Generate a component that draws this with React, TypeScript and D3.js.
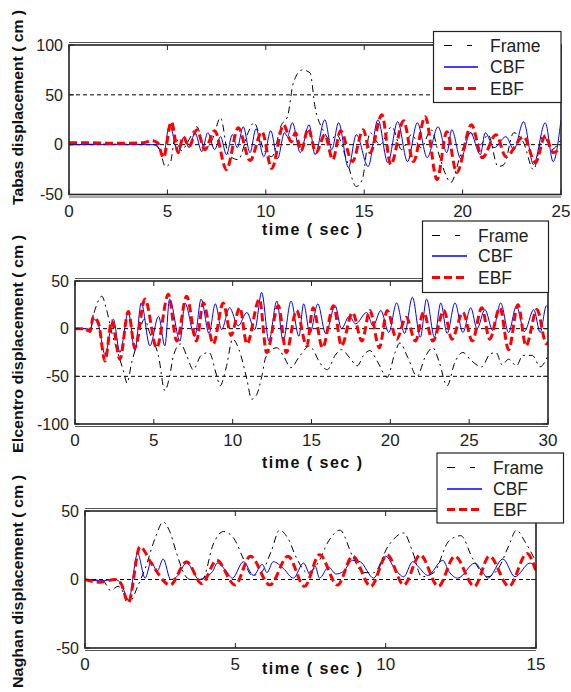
import React from 'react';
import * as d3 from 'd3';

type Pt = [number, number];

// ---------- DATA ----------
const seriesNames = ['Frame', 'CBF', 'EBF'];

const tabasXTicks = [0, 5, 10, 15, 20, 25];
const tabasYTicks = [-50, 0, 50, 100];
const tabasRefLines = [0, 50];
const tabasFrame: Pt[] = [[0,0],[2,0.5],[4.3,0],[4.6,-5],[4.9,-22],[5.15,-18],[5.4,8],[5.7,-6],[6.1,5],[6.5,18],[6.9,-4],[7.3,6],[7.7,27],[8.1,-10],[8.6,-15],[9.1,12],[9.4,22],[9.9,-5],[10.3,-12],[10.8,20],[11.1,28],[11.4,62],[11.85,75],[12.25,72],[12.5,38],[12.9,15],[13.3,5],[13.6,10],[14.1,-15],[14.6,-42],[14.9,-35],[15.3,12],[15.8,0],[16.4,18],[16.9,-5],[17.4,10],[17.9,-3],[18.4,15],[18.8,-10],[19.1,-28],[19.4,-38],[19.9,-10],[20.4,12],[20.9,0],[21.3,10],[21.8,-22],[22.1,-20],[22.6,12],[23.1,2],[23.6,-25],[24.1,10],[24.5,-5],[25,5]];
const tabasCBF: Pt[] = [[0,0],[4.4,0],[4.8,-10],[5.1,20],[5.55,-8],[5.85,8],[6.1,-3],[6.4,12],[6.75,-7],[7.05,12],[7.4,-5],[7.7,8],[8.0,-10],[8.3,10],[8.55,-3],[8.85,18],[9.2,-8],[9.5,16],[9.9,-12],[10.25,14],[10.6,-14],[10.95,12],[11.1,8],[11.35,22],[11.75,-8],[12.2,20],[12.5,-10],[13.0,25],[13.35,-5],[13.7,22],[14.2,-23],[14.6,10],[15.2,-22],[15.7,25],[16.2,-18],[16.7,23],[17.2,-17],[17.7,22],[18.2,-13],[18.75,18],[19.2,-8],[19.45,15],[19.9,-14],[20.4,12],[20.9,-10],[21.15,12],[21.6,-3],[22.2,8],[22.6,-5],[23.1,23],[23.6,-20],[24.2,22],[24.6,-17],[25,25]];
const tabasEBF: Pt[] = [[0,2],[1,2],[2,1.5],[3,1.5],[3.8,2],[4.2,4],[4.5,2],[4.8,-13],[5.2,23],[5.55,-8],[5.8,8],[6.1,-2],[6.5,15],[6.9,-5],[7.4,14],[8.0,-25],[8.6,17],[9.2,-16],[9.8,13],[10.3,-24],[10.9,20],[11.3,3],[11.5,12],[11.8,-6],[12.15,16],[12.55,-8],[13.0,10],[13.4,-15],[13.8,14],[14.4,-17],[14.95,15],[15.3,-8],[15.9,30],[16.35,-20],[17.0,24],[17.5,-17],[18.1,28],[18.7,-35],[19.2,13],[19.7,-28],[20.45,20],[21.0,-13],[21.7,10],[22.2,-12],[23.1,8],[23.7,-18],[24.2,9],[24.6,-8],[25,-3]];

const elcentroXTicks = [0, 5, 10, 15, 20, 25, 30];
const elcentroYTicks = [-100, -50, 0, 50];
const elcentroRefLines = [0, -50];
const elcentroFrame: Pt[] = [[0,0],[0.5,-1],[0.9,-3],[1.27,20],[1.7,34],[2.0,20],[2.35,-5],[2.75,-27],[3.1,-46],[3.3,-57],[3.6,-35],[3.9,-18],[4.4,10],[4.75,-5],[5.3,-29],[5.7,-65],[6.0,-50],[6.25,-28],[6.7,-16],[7.1,-29],[7.5,-43],[8.0,-28],[8.5,-25],[9.0,-50],[9.2,-60],[9.6,-40],[10.0,-11],[10.4,-22],[10.9,-53],[11.2,-74],[11.5,-70],[11.85,-50],[12.1,-30],[12.8,-20],[13.2,-28],[13.7,-41],[14.2,-30],[14.9,-18],[15.1,-22],[15.5,-35],[16.0,-43],[16.5,-28],[16.9,-22],[17.4,-30],[17.9,-39],[18.3,-28],[18.7,-23],[19.2,-35],[19.8,-51],[20.3,-25],[20.6,-15],[21.1,-30],[21.7,-50],[22.2,-30],[22.7,-20],[23.1,-35],[23.6,-60],[24.1,-35],[24.6,-25],[25.1,-33],[25.8,-40],[26.3,-27],[26.7,-25],[27.1,-38],[27.5,-32],[28.0,-39],[28.4,-28],[29.0,-28],[29.5,-40],[30,-28]];
const elcentroCBF: Pt[] = [[0,0],[0.7,0],[0.95,-2],[1.2,10],[1.5,3],[1.9,-27],[2.43,10],[2.85,-25],[3.38,17],[3.8,-23],[4.2,27],[4.75,-18],[5.3,13],[5.7,-18],[6.0,31],[6.66,-13],[6.97,27],[7.6,-8],[8.0,31],[8.5,-5],[8.9,26],[9.3,-1],[9.8,22],[10.35,3],[10.9,17],[11.4,-1],[11.84,38],[12.3,-13],[12.8,29],[13.2,-13],[13.7,29],[14.2,-8],[14.5,26],[14.9,-5],[15.4,26],[15.9,-5],[16.5,24],[16.9,0],[17.4,13],[17.8,5],[18.5,17],[18.9,3],[19.4,19],[19.9,-4],[20.4,27],[20.9,-5],[21.4,33],[21.9,-9],[22.3,31],[22.8,-9],[23.2,27],[23.6,-5],[24.1,27],[24.6,-4],[25.1,22],[25.5,0],[26.0,20],[26.5,-2],[27.0,27],[27.5,-4],[28.0,24],[28.5,-3],[29.1,20],[29.5,-4],[29.9,24],[30,22]];
const elcentroEBF: Pt[] = [[0,0],[0.7,0],[0.95,-3],[1.16,13],[1.5,5],[1.9,-34],[2.33,8],[2.85,-32],[3.38,18],[3.8,-20],[4.44,31],[5.18,-20],[5.92,36],[6.45,-13],[7.08,34],[7.7,-13],[8.14,27],[8.77,-16],[9.4,27],[9.9,-7],[10.45,22],[10.9,-16],[11.7,31],[12.15,-25],[12.9,24],[13.4,-25],[14.05,19],[14.7,-18],[15.1,22],[15.7,-20],[16.4,24],[16.9,-18],[17.6,17],[18.2,-13],[18.7,19],[19.3,-20],[19.8,19],[20.4,-11],[21.0,12],[21.6,-13],[22.1,17],[22.7,-13],[23.4,19],[23.9,-11],[24.6,17],[25.2,-13],[25.8,22],[26.3,-11],[26.95,22],[27.5,-22],[28.1,25],[28.6,-18],[29.3,20],[29.9,-16],[30,-14]];

const naghanXTicks = [0, 5, 10, 15];
const naghanYTicks = [-50, 0, 50];
const naghanRefLines = [0];
const naghanFrame: Pt[] = [[0,0],[0.6,-1],[0.85,-8],[1.1,-5],[1.5,-16],[1.75,-5],[2.0,8],[2.33,30],[2.6,42],[2.8,36],[3.05,19],[3.3,4],[3.5,0],[3.9,0],[4.27,26],[4.6,35],[4.95,30],[5.27,15],[5.55,3],[5.85,5],[6.2,21],[6.47,36],[6.75,30],[7.05,15],[7.4,5],[7.75,12],[8.1,28],[8.48,36],[8.9,17],[9.25,5],[9.6,5],[10.1,25],[10.6,34],[10.9,20],[11.2,2],[11.6,5],[12.1,28],[12.5,32],[12.9,15],[13.4,2],[13.8,10],[14.1,25],[14.35,36],[14.65,27],[15,13]];
const naghanCBF: Pt[] = [[0,0],[0.5,-1],[1.0,0],[1.2,-3],[1.45,-15],[1.75,19],[2.0,1],[2.2,13],[2.4,6],[2.6,15],[2.85,0],[3.05,2],[3.38,12],[3.8,0],[4.0,2],[4.25,6],[4.4,12],[4.7,6],[4.9,1],[5.27,13],[5.6,3],[5.9,11],[6.05,5],[6.26,13],[6.6,8],[6.93,1],[7.27,12],[7.5,3],[7.65,10],[7.8,1],[8.1,9],[8.35,4],[8.6,6],[8.9,14],[9.15,13],[9.6,1],[10.0,17],[10.3,8],[10.6,2],[10.9,13],[11.1,9],[11.4,3],[11.9,14],[12.1,6],[12.4,1],[12.97,12],[13.2,6],[13.4,1],[13.9,15],[14.3,2],[14.8,12],[15,9]];
const naghanEBF: Pt[] = [[0,0],[0.5,-2],[1.0,0],[1.2,-3],[1.44,-17],[1.83,24],[2.2,12],[2.83,-4],[3.38,13],[3.88,-3],[4.38,14],[4.99,-4],[5.5,17],[6.15,-4],[6.75,17],[7.3,-5],[7.8,18],[8.4,-4],[8.9,17],[9.5,-5],[10.05,18],[10.6,-4],[11.15,18],[11.75,-5],[12.3,17],[12.95,-5],[13.45,17],[14.1,-5],[14.7,19],[15,6]];

const yAxisTitles = ['Tabas displacement ( cm )', 'Elcentro displacement ( cm )', 'Naghan displacement ( cm )'];
const xAxisTitle = 'time ( sec )';

// ---------- STYLE / LAYOUT ----------
const FONT = "'Liberation Sans', Arial, Helvetica, sans-serif";
const seriesStyles = [
  { stroke: '#000000', width: 1, dash: '7,4,2,4' },
  { stroke: '#0000ff', width: 1, dash: undefined as string | undefined },
  { stroke: '#ff0000', width: 3, dash: '8,4' },
];
const legendWidths = [1, 1.4, 3];

interface LegendCfg { x: number; y: number; w: number; h: number; rows: number[]; lineX: [number, number]; textX: number; }
interface PanelCfg {
  id: string; left: number; right: number; top: number; bottom: number;
  xDomain: [number, number]; yDomain: [number, number];
  xTicks: number[]; yTicks: number[]; refs: number[]; series: Pt[][];
  yTitle: string; yTitleY: number; yTitleLen: number; xTitleY: number; legend: LegendCfg;
}

const panels: PanelCfg[] = [
  { id: 'p1', left: 69, right: 561, top: 45, bottom: 194.5, xDomain: [0, 25], yDomain: [-50, 100],
    xTicks: tabasXTicks, yTicks: tabasYTicks, refs: tabasRefLines, series: [tabasFrame, tabasCBF, tabasEBF],
    yTitle: yAxisTitles[0], yTitleY: 107.5, yTitleLen: 195, xTitleY: 235,
    legend: { x: 433.5, y: 31.5, w: 127.5, h: 71, rows: [45.5, 67, 88.5], lineX: [444, 478], textX: 490 } },
  { id: 'p2', left: 75, right: 548, top: 281, bottom: 424, xDomain: [0, 30], yDomain: [-100, 50],
    xTicks: elcentroXTicks, yTicks: elcentroYTicks, refs: elcentroRefLines, series: [elcentroFrame, elcentroCBF, elcentroEBF],
    yTitle: yAxisTitles[1], yTitleY: 344, yTitleLen: 218, xTitleY: 468,
    legend: { x: 422.5, y: 221, w: 126, h: 71.5, rows: [235.5, 256, 277.5], lineX: [432, 467], textX: 478 } },
  { id: 'p3', left: 85, right: 536, top: 511, bottom: 648, xDomain: [0, 15], yDomain: [-50, 50],
    xTicks: naghanXTicks, yTicks: naghanYTicks, refs: naghanRefLines, series: [naghanFrame, naghanCBF, naghanEBF],
    yTitle: yAxisTitles[2], yTitleY: 581.5, yTitleLen: 213, xTitleY: 674,
    legend: { x: 437, y: 453, w: 126.5, h: 70, rows: [467.5, 489, 509.5], lineX: [447, 482], textX: 493 } },
];

function Panel({ cfg }: { cfg: PanelCfg }) {
  const x = d3.scaleLinear().domain(cfg.xDomain).range([cfg.left, cfg.right]);
  const y = d3.scaleLinear().domain(cfg.yDomain).range([cfg.bottom, cfg.top]);
  const line = d3.line<Pt>().x(d => x(d[0])).y(d => y(d[1])).curve(d3.curveMonotoneX);
  const clipId = `clip-${cfg.id}`;
  const lg = cfg.legend;
  return (
    <g>
      <defs>
        <clipPath id={clipId}>
          <rect x={cfg.left} y={cfg.top} width={cfg.right - cfg.left} height={cfg.bottom - cfg.top} />
        </clipPath>
      </defs>
      {cfg.refs.map(r => (
        <line key={`r${r}`} x1={cfg.left} x2={cfg.right} y1={y(r)} y2={y(r)} stroke="#000" strokeWidth={1} strokeDasharray="4,3" />
      ))}
      <g clipPath={`url(#${clipId})`}>
        {cfg.series.map((s, i) => (
          <path key={i} d={line(s) || ''} fill="none" stroke={seriesStyles[i].stroke}
            strokeWidth={seriesStyles[i].width} strokeDasharray={seriesStyles[i].dash} strokeLinejoin="round" />
        ))}
      </g>
      <rect x={cfg.left} y={cfg.top} width={cfg.right - cfg.left} height={cfg.bottom - cfg.top} fill="none" stroke="#222" strokeWidth={1.6} />
      <line x1={cfg.left} x2={cfg.right} y1={cfg.top - 2.5} y2={cfg.top - 2.5} stroke="#555" strokeWidth={1} />
      <line x1={cfg.left} x2={cfg.right} y1={cfg.bottom + 2.5} y2={cfg.bottom + 2.5} stroke="#555" strokeWidth={1} />
      {cfg.xTicks.map(t => (
        <g key={`xt${t}`}>
          <line x1={x(t)} x2={x(t)} y1={cfg.bottom} y2={cfg.bottom - 5} stroke="#222" strokeWidth={1} />
          <line x1={x(t)} x2={x(t)} y1={cfg.top} y2={cfg.top + 5} stroke="#222" strokeWidth={1} />
          <text x={x(t)} y={cfg.bottom + 22} textAnchor="middle" fontFamily={FONT} fontSize={17} fill="#222">{t}</text>
        </g>
      ))}
      {cfg.yTicks.map(t => (
        <g key={`yt${t}`}>
          <line x1={cfg.left} x2={cfg.left + 5} y1={y(t)} y2={y(t)} stroke="#222" strokeWidth={1} />
          <line x1={cfg.right} x2={cfg.right - 5} y1={y(t)} y2={y(t)} stroke="#222" strokeWidth={1} />
          <text x={cfg.left - 6} y={y(t) + 5.8} textAnchor="end" fontFamily={FONT} fontSize={16} fill="#222">{t}</text>
        </g>
      ))}
      <text x={312} y={cfg.xTitleY} textAnchor="middle" fontFamily={FONT} fontWeight="bold" fontSize={16}
        fill="#111" textLength={100} lengthAdjust="spacing">{xAxisTitle}</text>
      <text transform={`translate(23,${cfg.yTitleY}) rotate(-90)`} textAnchor="middle" fontFamily={FONT} fontWeight="bold"
        fontSize={14} fill="#111" textLength={cfg.yTitleLen} lengthAdjust="spacingAndGlyphs">{cfg.yTitle}</text>
      <rect x={lg.x} y={lg.y} width={lg.w} height={lg.h} fill="#fff" stroke="#222" strokeWidth={1.2} />
      {seriesNames.map((n, i) => (
        <g key={n}>
          <line x1={lg.lineX[0]} x2={lg.lineX[1]} y1={lg.rows[i]} y2={lg.rows[i]} stroke={seriesStyles[i].stroke}
            strokeWidth={legendWidths[i]} strokeDasharray={i === 0 ? '8,15,5' : seriesStyles[i].dash} />
          <text x={lg.textX} y={lg.rows[i] + 6} fontFamily={FONT} fontSize={17.5} fill="#222">{n}</text>
        </g>
      ))}
    </g>
  );
}

export default function App() {
  return (
    <svg width={571} height={692} viewBox="0 0 571 692"
      style={{ position: 'absolute', left: 0, top: 0, background: '#fff', display: 'block' }}>
      <rect x={0} y={0} width={571} height={692} fill="#fff" />
      {panels.map(p => <Panel key={p.id} cfg={p} />)}
    </svg>
  );
}
